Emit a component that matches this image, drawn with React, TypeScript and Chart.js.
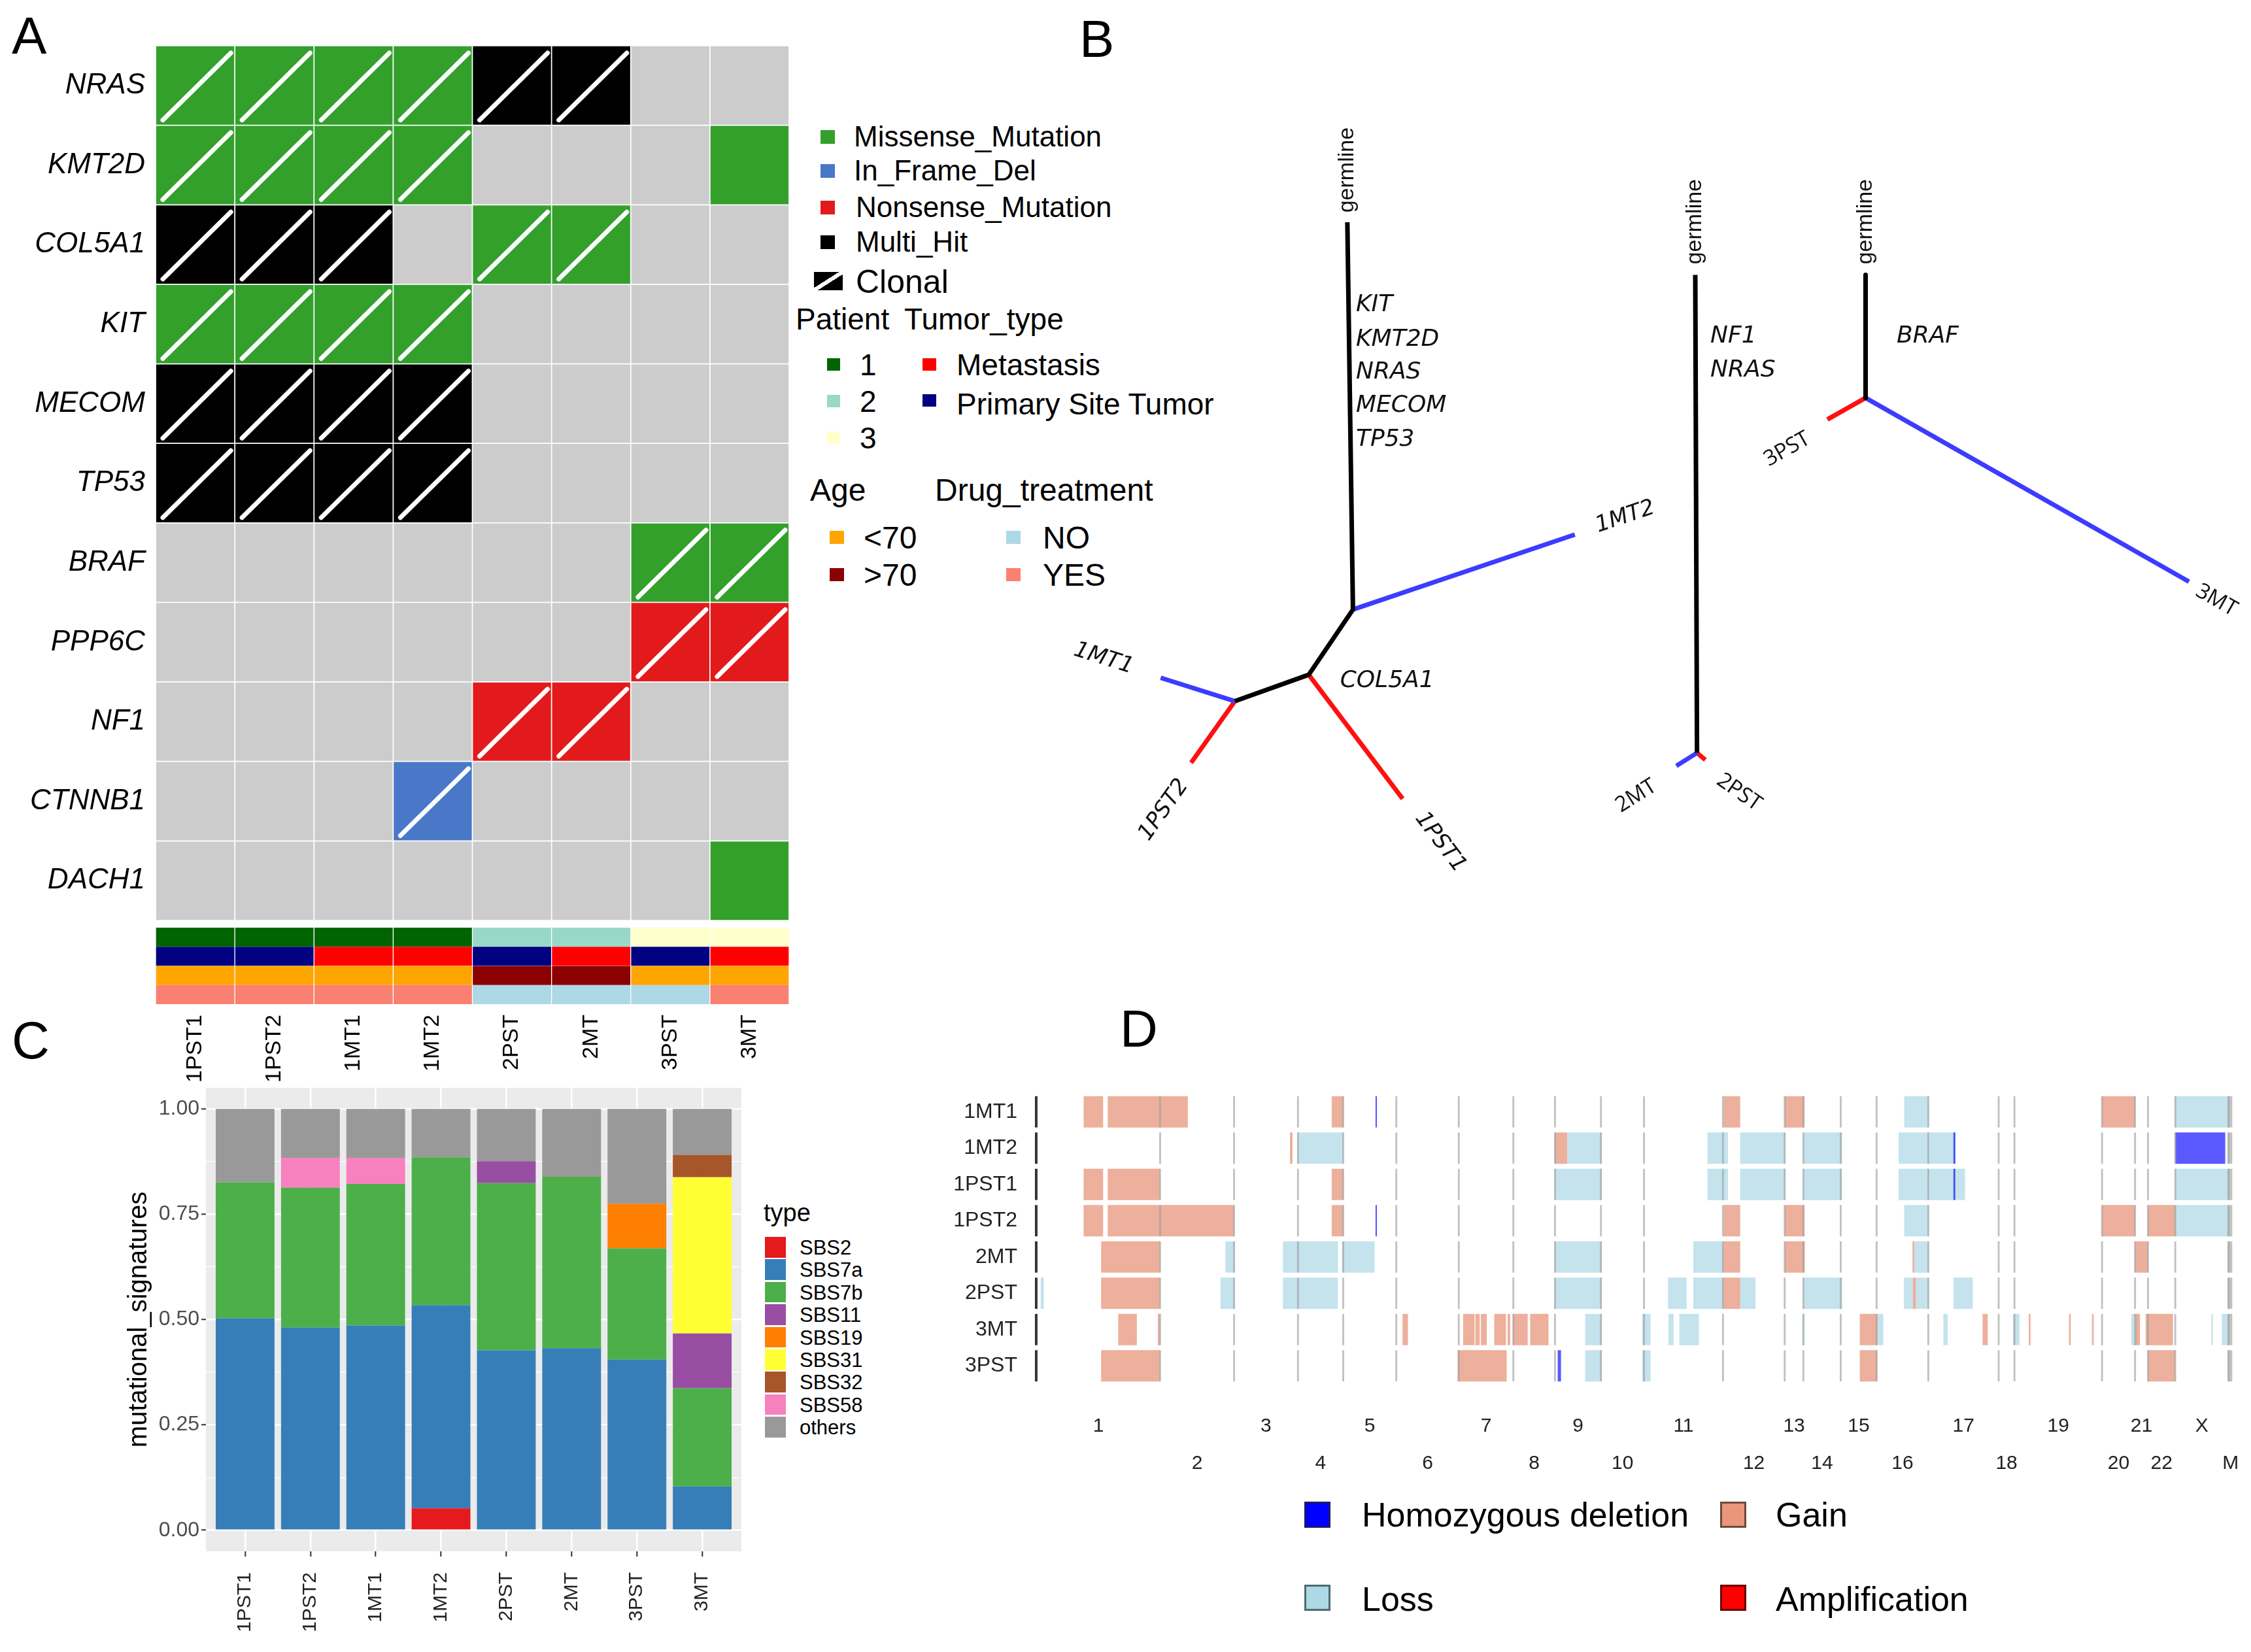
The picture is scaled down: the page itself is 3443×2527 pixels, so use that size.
import React, { useEffect, useRef } from 'react';
import { Chart, registerables } from 'chart.js';

Chart.register(...registerables);

const SANS = "'Liberation Sans', Arial, Helvetica, sans-serif";
const DEJAVU = "'DejaVu Sans', Verdana, sans-serif";
const OPEN = "'Open Sans', 'Liberation Sans', sans-serif";

// ================= Panel A : oncoprint =================
const oncoSamples = ['1PST1', '1PST2', '1MT1', '1MT2', '2PST', '2MT', '3PST', '3MT'];
const oncoGenes = ['NRAS', 'KMT2D', 'COL5A1', 'KIT', 'MECOM', 'TP53', 'BRAF', 'PPP6C', 'NF1', 'CTNNB1', 'DACH1'];
const variantTypes = ['Missense_Mutation', 'In_Frame_Del', 'Nonsense_Mutation', 'Multi_Hit'];
const variantColors = ['#33a02c', '#4a78c8', '#e31a1c', '#000000'];
const noVariantColor = '#cccccc';
const MIS = 'Missense_Mutation';
const DEL = 'In_Frame_Del';
const NON = 'Nonsense_Mutation';
const MH = 'Multi_Hit';
const NA = '';
const variantMatrix = [
  [MIS, MIS, MIS, MIS, MH, MH, NA, NA],
  [MIS, MIS, MIS, MIS, NA, NA, NA, MIS],
  [MH, MH, MH, NA, MIS, MIS, NA, NA],
  [MIS, MIS, MIS, MIS, NA, NA, NA, NA],
  [MH, MH, MH, MH, NA, NA, NA, NA],
  [MH, MH, MH, MH, NA, NA, NA, NA],
  [NA, NA, NA, NA, NA, NA, MIS, MIS],
  [NA, NA, NA, NA, NA, NA, NON, NON],
  [NA, NA, NA, NA, NON, NON, NA, NA],
  [NA, NA, NA, DEL, NA, NA, NA, NA],
  [NA, NA, NA, NA, NA, NA, NA, MIS],
];
const clonalMatrix = [
  [1, 1, 1, 1, 1, 1, 0, 0],
  [1, 1, 1, 1, 0, 0, 0, 0],
  [1, 1, 1, 0, 1, 1, 0, 0],
  [1, 1, 1, 1, 0, 0, 0, 0],
  [1, 1, 1, 1, 0, 0, 0, 0],
  [1, 1, 1, 1, 0, 0, 0, 0],
  [0, 0, 0, 0, 0, 0, 1, 1],
  [0, 0, 0, 0, 0, 0, 1, 1],
  [0, 0, 0, 0, 1, 1, 0, 0],
  [0, 0, 0, 1, 0, 0, 0, 0],
  [0, 0, 0, 0, 0, 0, 0, 0],
];
const patientOf = ['1', '1', '1', '1', '2', '2', '3', '3'];
const tumorTypeOf = ['Primary Site Tumor', 'Primary Site Tumor', 'Metastasis', 'Metastasis', 'Primary Site Tumor', 'Metastasis', 'Primary Site Tumor', 'Metastasis'];
const ageOf = ['<70', '<70', '<70', '<70', '>70', '>70', '<70', '<70'];
const drugOf = ['YES', 'YES', 'YES', 'YES', 'NO', 'NO', 'NO', 'YES'];
const patientLevels = ['1', '2', '3'];
const patientColors = ['#006400', '#99d8c9', '#ffffcc'];
const tumorLevels = ['Metastasis', 'Primary Site Tumor'];
const tumorColors = ['#ff0000', '#000080'];
const ageLevels = ['<70', '>70'];
const ageColors = ['#ffa500', '#8b0000'];
const drugLevels = ['NO', 'YES'];
const drugColors = ['#add8e6', '#fa8072'];

// ================= Panel B : phylogenetic trees =================
const treeNodes: Record<string, [number, number]> = {
  G1: [23.85, 47.53], N1: [24.24, 20.56], T1MT2: [39.69, 25.78], N2: [21.16, 16.02], N3: [16.02, 14.18],
  T1MT1: [10.85, 15.81], T1PST2: [12.97, 9.89], T1PST1: [27.7, 7.38],
  G2: [48.08, 43.87], N4: [48.2, 10.58], T2MT: [46.76, 9.67], T2PST: [48.78, 10.09],
  G3: [59.94, 43.87], N5: [59.94, 35.3], T3PST: [57.28, 33.8], T3MT: [82.46, 22.5],
};
const trunkBranches = [['G1', 'N1', 'N2', 'N3'], ['G2', 'N4'], ['G3', 'N5']];
const metastasisBranches = [['N1', 'T1MT2'], ['N3', 'T1MT1'], ['N4', 'T2MT'], ['N5', 'T3MT']];
const primaryBranches = [['N3', 'T1PST2'], ['N2', 'T1PST1'], ['N4', 'T2PST'], ['N5', 'T3PST']];
const treeLabels = [
  { text: 'germline', x: 23.85, y: 48.2, rot: -90, align: 'left', kind: 'root' },
  { text: 'germline', x: 48.08, y: 44.6, rot: -90, align: 'left', kind: 'root' },
  { text: 'germline', x: 59.94, y: 44.6, rot: -90, align: 'left', kind: 'root' },
  { text: 'KIT', x: 24.45, y: 41.78, rot: 0, align: 'left', kind: 'gene' },
  { text: 'KMT2D', x: 24.45, y: 39.37, rot: 0, align: 'left', kind: 'gene' },
  { text: 'NRAS', x: 24.45, y: 37.07, rot: 0, align: 'left', kind: 'gene' },
  { text: 'MECOM', x: 24.45, y: 34.74, rot: 0, align: 'left', kind: 'gene' },
  { text: 'TP53', x: 24.45, y: 32.37, rot: 0, align: 'left', kind: 'gene' },
  { text: 'COL5A1', x: 23.34, y: 15.57, rot: 0, align: 'left', kind: 'gene' },
  { text: 'NF1', x: 49.13, y: 39.57, rot: 0, align: 'left', kind: 'gene' },
  { text: 'NRAS', x: 49.13, y: 37.23, rot: 0, align: 'left', kind: 'gene' },
  { text: 'BRAF', x: 62.1, y: 39.57, rot: 0, align: 'left', kind: 'gene' },
  { text: '1MT2', x: 43.2, y: 27.0, rot: -18.7, align: 'center', kind: 'tipItalic' },
  { text: '1MT1', x: 6.87, y: 17.14, rot: 17.5, align: 'center', kind: 'tipItalic' },
  { text: '1PST2', x: 11.08, y: 6.6, rot: -54.6, align: 'center', kind: 'tipItalic' },
  { text: '1PST1', x: 30.32, y: 4.35, rot: 52.9, align: 'center', kind: 'tipItalic' },
  { text: '2MT', x: 43.96, y: 7.58, rot: -32, align: 'center', kind: 'tip' },
  { text: '2PST', x: 51.13, y: 7.83, rot: 35, align: 'center', kind: 'tip' },
  { text: '3PST', x: 54.48, y: 31.72, rot: -29.4, align: 'center', kind: 'tip' },
  { text: '3MT', x: 84.37, y: 21.2, rot: 29.6, align: 'center', kind: 'tip' },
];

// ================= Panel C : mutational signatures =================
const sigSamples = ['1PST1', '1PST2', '1MT1', '1MT2', '2PST', '2MT', '3PST', '3MT'];
const sigNames = ['SBS2', 'SBS7a', 'SBS7b', 'SBS11', 'SBS19', 'SBS31', 'SBS32', 'SBS58', 'others'];
const sigColors = ['#E41A1C', '#377EB8', '#4DAF4A', '#984EA3', '#FF7F00', '#FFFF33', '#A65628', '#F781BF', '#999999'];
const SBS2 = [0, 0, 0, 0.052, 0, 0, 0, 0];
const SBS7a = [0.503, 0.481, 0.486, 0.482, 0.427, 0.432, 0.405, 0.104];
const SBS7b = [0.323, 0.332, 0.336, 0.351, 0.397, 0.407, 0.264, 0.233];
const SBS11 = [0, 0, 0, 0, 0.052, 0, 0, 0.13];
const SBS19 = [0, 0, 0, 0, 0, 0, 0.106, 0];
const SBS31 = [0, 0, 0, 0, 0, 0, 0, 0.371];
const SBS32 = [0, 0, 0, 0, 0, 0, 0, 0.053];
const SBS58 = [0, 0.071, 0.062, 0, 0, 0, 0, 0];
const others = [0.174, 0.116, 0.116, 0.115, 0.124, 0.161, 0.225, 0.109];
const sigValues = [SBS2, SBS7a, SBS7b, SBS11, SBS19, SBS31, SBS32, SBS58, others];
const sigYTicks = [0, 0.125, 0.25, 0.375, 0.5, 0.625, 0.75, 0.875, 1];

// ================= Panel D : copy number =================
const cnvSamples = ['1MT1', '1MT2', '1PST1', '1PST2', '2MT', '2PST', '3MT', '3PST'];
const chrNames = ['1', '2', '3', '4', '5', '6', '7', '8', '9', '10', '11', '12', '13', '14', '15', '16', '17', '18', '19', '20', '21', '22', 'X', 'M'];
const chrWidths = [86, 51.5, 44.5, 31.5, 37, 43.5, 38, 29, 32, 30, 55, 43, 13, 26, 25, 36, 49, 11, 61, 23, 9, 19, 37, 3];
const gainSegments = [
  [0, 32.7, 46.3], [0, 49.5, 105.3], [0, 205.5, 213.6], [0, 478.5, 490], [0, 521, 534.8], [0, 742, 765],
  [1, 176.4, 178.2], [1, 360.8, 369.5],
  [2, 32.7, 46.3], [2, 49.5, 85.8], [2, 205.5, 213.6],
  [3, 32.7, 46.3], [3, 49.5, 137.5], [3, 205.5, 213.6], [3, 478.5, 490], [3, 521, 534.8], [3, 742, 765], [3, 774, 793],
  [4, 44.9, 85.8], [4, 478.5, 490], [4, 521, 535], [4, 610, 611.2], [4, 765, 774],
  [5, 44.9, 85.8], [5, 478.5, 490], [5, 610.3, 612.4],
  [6, 56.8, 69.8], [6, 84.4, 85.8], [6, 254.8, 258.6], [6, 297, 305], [6, 305.6, 308.6], [6, 309.4, 313.5],
  [6, 318.7, 326.9], [6, 328, 329.8], [6, 331.8, 342], [6, 343.7, 356.5], [6, 573.3, 585.4], [6, 658.8, 662.4],
  [6, 691, 692.2], [6, 719, 720.2], [6, 735, 736.2], [6, 765.4, 768.4], [6, 772.4, 791.4],
  [7, 44.9, 85.8], [7, 293.2, 327.4], [7, 573.3, 585.4], [7, 774, 793],
];
const lossSegments = [
  [0, 604.2, 621.2], [0, 793, 830],
  [1, 181.7, 213.6], [1, 369.5, 393.6], [1, 467.2, 481.5], [1, 490, 521.5], [1, 533.9, 560.9], [1, 600.3, 640],
  [2, 360.8, 393.6], [2, 467.2, 481.5], [2, 490, 521.5], [2, 533.9, 560.9], [2, 600.3, 646.6], [2, 793, 830],
  [3, 604.2, 621.2], [3, 793, 830],
  [4, 131.4, 138], [4, 171.5, 209.8], [4, 212.7, 235.4], [4, 360.8, 393.6], [4, 457.3, 478.5], [4, 611.2, 621.2],
  [5, 2.8, 5], [5, 128, 138], [5, 171.5, 209.8], [5, 360.8, 393.6], [5, 439.7, 452.7], [5, 457.3, 478.5],
  [5, 490, 500.6], [5, 534, 561], [5, 604, 610.3], [5, 612.4, 621.2], [5, 638.5, 652],
  [6, 382, 393.6], [6, 421.8, 427.6], [6, 440, 443.6], [6, 447.6, 461.2], [6, 533.3, 534.7], [6, 585.4, 589.7],
  [6, 631.5, 634.5], [6, 680, 684.5], [6, 762.4, 766.3], [6, 818.2, 819.2], [6, 825.4, 830],
  [7, 382, 393.6], [7, 421.8, 427.6],
];
const homdelSegments = [
  [0, 236, 237], [1, 793, 827.8], [1, 638.5, 639.8], [2, 638.5, 639.8], [3, 236, 237], [7, 362.9, 365.2],
];
const amplificationSegments: number[][] = [];
const cnvLegendNames = ['Homozygous deletion', 'Loss', 'Gain', 'Amplification'];
const cnvLegendColors = ['#0000ff', '#add8e6', '#e9967a', '#ff0000'];
const cnvLegendBorders = ['#1a1a6e', '#4d6b73', '#6e4a3c', '#6e0000'];

// ================= helpers =================
const cumulative = (w: number[]) => {
  const ends: number[] = [];
  let acc = 0;
  w.forEach((v) => { acc += v; ends.push(acc); });
  return ends;
};
const chrEnds = cumulative(chrWidths);
const chrStarts = chrEnds.map((e, i) => e - chrWidths[i]);
const chrCenters = chrStarts.map((s, i) => s + chrWidths[i] / 2);
const segData = (segs: number[][]) => segs.map((s) => ({ x: [s[1], s[2]], y: cnvSamples[s[0]] }));

const clonalPlugin = {
  id: 'clonalMarks',
  afterDatasetsDraw(chart: any) {
    const ctx = chart.ctx;
    chart.data.datasets.forEach((_ds: any, j: number) => {
      const meta = chart.getDatasetMeta(j);
      meta.data.forEach((el: any, i: number) => {
        if (!clonalMatrix[i][j]) return;
        const p = el.getProps(['x', 'y', 'base', 'height'], true);
        const left = Math.min(p.x, p.base);
        const right = Math.max(p.x, p.base);
        const top = p.y - p.height / 2;
        const bottom = p.y + p.height / 2;
        ctx.save();
        ctx.strokeStyle = '#ffffff';
        ctx.lineWidth = 7;
        ctx.lineCap = 'round';
        ctx.beginPath();
        ctx.moveTo(left + 11, bottom - 8);
        ctx.lineTo(right - 6, top + 11);
        ctx.stroke();
        ctx.restore();
      });
    });
  },
};

const panelBgPlugin = {
  id: 'panelBg',
  beforeDraw(chart: any) {
    const { ctx, chartArea } = chart;
    ctx.save();
    ctx.fillStyle = '#ebebeb';
    ctx.fillRect(chartArea.left, chartArea.top, chartArea.right - chartArea.left, chartArea.bottom - chartArea.top);
    ctx.restore();
  },
};

const treeLabelPlugin = {
  id: 'treeLabels',
  afterDatasetsDraw(chart: any) {
    const { ctx, scales } = chart;
    treeLabels.forEach((l) => {
      ctx.save();
      ctx.translate(scales.x.getPixelForValue(l.x), scales.y.getPixelForValue(l.y));
      ctx.rotate((l.rot * Math.PI) / 180);
      if (l.kind === 'root') ctx.font = `34px ${SANS}`;
      else if (l.kind === 'gene') ctx.font = `italic 36px ${DEJAVU}`;
      else if (l.kind === 'tipItalic') ctx.font = `italic 34px ${DEJAVU}`;
      else ctx.font = `33px ${OPEN}`;
      ctx.fillStyle = '#111';
      ctx.textAlign = l.align;
      ctx.textBaseline = 'middle';
      ctx.fillText(l.text, 0, 0);
      ctx.restore();
    });
  },
};

const isMajor = (v: number) => Math.abs(v * 4 - Math.round(v * 4)) < 1e-6;

// ================= chart configs =================
function heatmapConfig(): any {
  return {
    type: 'bar',
    data: {
      labels: oncoGenes,
      datasets: oncoSamples.map((s, j) => ({
        label: s,
        data: oncoGenes.map(() => 1),
        backgroundColor: oncoGenes.map((_, i) => {
          const t = variantMatrix[i][j];
          return t ? variantColors[variantTypes.indexOf(t)] : noVariantColor;
        }),
        borderColor: 'rgba(255,255,255,0.28)',
        borderWidth: 1.2,
        borderSkipped: false,
        barPercentage: 1,
        categoryPercentage: 1,
      })),
    },
    options: {
      indexAxis: 'y',
      responsive: false,
      animation: false,
      events: [],
      layout: { padding: 0 },
      plugins: { legend: { display: false }, tooltip: { enabled: false } },
      scales: {
        x: { stacked: true, min: 0, max: oncoSamples.length, display: false },
        y: {
          stacked: true,
          grid: { display: false },
          border: { display: false },
          ticks: { font: { family: SANS, size: 44, style: 'italic' }, color: '#000', padding: 8 },
          afterFit: (s: any) => { s.width = 238; s.paddingTop = 0; s.paddingBottom = 0; },
        },
      },
    },
    plugins: [clonalPlugin],
  };
}

function annotationConfig(): any {
  const rows = [
    { name: 'Drug_treatment', values: drugOf, levels: drugLevels, colors: drugColors },
    { name: 'Age', values: ageOf, levels: ageLevels, colors: ageColors },
    { name: 'Tumor_type', values: tumorTypeOf, levels: tumorLevels, colors: tumorColors },
    { name: 'Patient', values: patientOf, levels: patientLevels, colors: patientColors },
  ];
  return {
    type: 'bar',
    data: {
      labels: oncoSamples,
      datasets: rows.map((r) => ({
        label: r.name,
        data: oncoSamples.map(() => 1),
        backgroundColor: r.values.map((v) => r.colors[r.levels.indexOf(v)]),
        borderColor: 'rgba(255,255,255,0.15)',
        borderWidth: { left: 1, right: 1, top: 0, bottom: 0 },
        borderSkipped: false,
        barPercentage: 1,
        categoryPercentage: 1,
      })),
    },
    options: {
      responsive: false,
      animation: false,
      events: [],
      layout: { padding: 0 },
      plugins: { legend: { display: false }, tooltip: { enabled: false } },
      scales: {
        x: {
          stacked: true,
          grid: { display: false },
          border: { display: false },
          ticks: { autoSkip: false, minRotation: 90, maxRotation: 90, font: { family: SANS, size: 34 }, color: '#000', padding: 8 },
          afterFit: (s: any) => { s.height = 150; s.paddingLeft = 0; s.paddingRight = 0; },
        },
        y: { stacked: true, min: 0, max: 4, display: false },
      },
    },
  };
}

function treeConfig(): any {
  const mk = (path: string[], color: string) => ({
    data: path.map((k) => ({ x: treeNodes[k][0], y: treeNodes[k][1] })),
    showLine: true,
    borderColor: color,
    borderWidth: 7,
    borderCapStyle: 'butt',
    borderJoinStyle: 'round',
    pointRadius: 0,
    pointHoverRadius: 0,
    tension: 0,
  });
  return {
    type: 'scatter',
    data: {
      datasets: [
        ...trunkBranches.map((p) => mk(p, '#000000')),
        ...metastasisBranches.map((p) => mk(p, '#3c3cff')),
        ...primaryBranches.map((p) => mk(p, '#ff1010')),
      ],
    },
    options: {
      responsive: false,
      animation: false,
      events: [],
      layout: { padding: 0 },
      plugins: { legend: { display: false }, tooltip: { enabled: false } },
      scales: {
        x: { type: 'linear', min: 0, max: 86.78, display: false },
        y: { type: 'linear', min: 0, max: 57, display: false },
      },
    },
    plugins: [treeLabelPlugin],
  };
}

function signatureConfig(): any {
  return {
    type: 'bar',
    data: {
      datasets: sigNames.map((n, k) => ({
        label: n,
        data: sigValues[k].map((v, i) => ({ x: i, y: v })),
        backgroundColor: sigColors[k],
        borderWidth: 0,
        barPercentage: 0.9,
        categoryPercentage: 1,
      })),
    },
    options: {
      responsive: false,
      animation: false,
      events: [],
      layout: { padding: { right: 10 } },
      plugins: { legend: { display: false }, tooltip: { enabled: false } },
      scales: {
        x: {
          type: 'linear',
          offset: false,
          stacked: true,
          min: -0.6,
          max: sigSamples.length - 0.4,
          afterBuildTicks: (s: any) => { s.ticks = sigSamples.map((_, i) => ({ value: i })); },
          ticks: {
            autoSkip: false,
            minRotation: 90,
            maxRotation: 90,
            callback: (v: any) => sigSamples[v],
            font: { family: SANS, size: 30 },
            color: '#222',
            padding: 24,
          },
          grid: { offset: false, color: '#ffffff', lineWidth: 2.6, tickColor: '#333333', tickLength: 8, tickWidth: 2 },
          border: { display: false },
          afterFit: (s: any) => { s.height = 200; s.paddingLeft = 0; s.paddingRight = 0; },
        },
        y: {
          stacked: true,
          min: -0.05,
          max: 1.05,
          afterBuildTicks: (s: any) => { s.ticks = sigYTicks.map((v) => ({ value: v })); },
          ticks: {
            callback: (v: any) => (isMajor(v) ? Number(v).toFixed(2) : ''),
            font: { family: SANS, size: 32 },
            color: '#4d4d4d',
            padding: 3,
          },
          grid: {
            color: '#ffffff',
            lineWidth: (c: any) => (c.tick && isMajor(c.tick.value) ? 2.6 : 1.3),
            tickColor: (c: any) => (c.tick && isMajor(c.tick.value) ? '#333333' : 'rgba(0,0,0,0)'),
            tickLength: 7,
            tickWidth: 2,
          },
          border: { display: false },
          title: { display: true, text: 'mutational_signatures', font: { family: SANS, size: 40 }, color: '#000', padding: { top: 4, bottom: 4 } },
          afterFit: (s: any) => { s.width = 130; s.paddingTop = 0; s.paddingBottom = 0; },
        },
      },
    },
    plugins: [panelBgPlugin],
  };
}

function cnvConfig(): any {
  const boundaryData: any[] = [];
  const axisData: any[] = [];
  cnvSamples.forEach((s) => {
    axisData.push({ x: [-1.2, 0.6], y: s });
    chrEnds.slice(0, -1).forEach((b) => boundaryData.push({ x: [b - 0.65, b + 0.65], y: s }));
    boundaryData.push({ x: [chrStarts[chrStarts.length - 1] - 0.3, chrEnds[chrEnds.length - 1] - 0.3], y: s });
  });
  const common = { grouped: false, barPercentage: 0.862, categoryPercentage: 1, borderWidth: 0 };
  return {
    type: 'bar',
    data: {
      labels: cnvSamples,
      datasets: [
        { label: 'boundary', data: boundaryData, backgroundColor: 'rgba(160,160,160,0.65)', ...common },
        { label: 'axis', data: axisData, backgroundColor: '#333333', ...common },
        { label: 'Homozygous deletion', data: segData(homdelSegments), backgroundColor: 'rgba(0,0,255,0.65)', ...common },
        { label: 'Amplification', data: segData(amplificationSegments), backgroundColor: 'rgba(255,0,0,0.65)', ...common },
        { label: 'Gain', data: segData(gainSegments), backgroundColor: 'rgba(230,146,118,0.72)', ...common },
        { label: 'Loss', data: segData(lossSegments), backgroundColor: 'rgba(173,216,230,0.72)', ...common },
      ],
    },
    options: {
      indexAxis: 'y',
      responsive: false,
      animation: false,
      events: [],
      layout: { padding: { right: 30 } },
      plugins: { legend: { display: false }, tooltip: { enabled: false } },
      scales: {
        x: {
          type: 'linear',
          min: -3,
          max: chrEnds[chrEnds.length - 1],
          afterBuildTicks: (s: any) => { s.ticks = chrCenters.map((v) => ({ value: v })); },
          ticks: {
            autoSkip: false,
            minRotation: 0,
            maxRotation: 0,
            callback: (_v: any, i: number) => (i % 2 === 0 ? [chrNames[i], ''] : ['', chrNames[i]]),
            font: { family: SANS, size: 30, lineHeight: 1.9 },
            color: '#222',
            padding: 28,
          },
          grid: { display: false },
          border: { display: false },
          afterFit: (s: any) => { s.height = 150; s.paddingLeft = 0; s.paddingRight = 0; },
        },
        y: {
          type: 'category',
          grid: { display: false },
          border: { display: false },
          ticks: { font: { family: SANS, size: 32 }, color: '#222', padding: 15 },
          afterFit: (s: any) => { s.width = 129; s.paddingTop = 0; s.paddingBottom = 0; },
        },
      },
    },
  };
}

// ================= components =================
function ChartCanvas({ left, top, width, height, make }: any) {
  const ref = useRef<HTMLCanvasElement>(null);
  useEffect(() => {
    const chart = new Chart(ref.current as HTMLCanvasElement, make());
    return () => chart.destroy();
  }, []);
  return (
    <canvas
      ref={ref}
      width={width}
      height={height}
      style={{ position: 'absolute', left, top, width, height }}
    />
  );
}

const Txt = ({ x, y, size, children, family }: any) => (
  <div
    style={{
      position: 'absolute',
      left: x,
      top: y,
      fontSize: size,
      lineHeight: 1,
      transform: 'translateY(-50%)',
      whiteSpace: 'nowrap',
      fontFamily: family || SANS,
      color: '#000',
    }}
  >
    {children}
  </div>
);

const Box = ({ x, y, w, h, color, border }: any) => (
  <div
    style={{
      position: 'absolute',
      left: x,
      top: y,
      width: w,
      height: h,
      background: color,
      boxSizing: 'border-box',
      border: border || 'none',
    }}
  />
);

function LegendA() {
  const vy = [209, 261, 317, 370];
  const vx = [1306, 1306, 1309, 1309];
  return (
    <>
      {variantTypes.map((t, i) => (
        <React.Fragment key={t}>
          <Box x={1255} y={vy[i] - 10} w={22} h={21} color={variantColors[i]} />
          <Txt x={vx[i]} y={vy[i]} size={44}>{t}</Txt>
        </React.Fragment>
      ))}
      <div
        style={{
          position: 'absolute', left: 1245, top: 416, width: 44, height: 28,
          background: 'linear-gradient(to top left, #000 calc(50% - 3px), #fff calc(50% - 3px), #fff calc(50% + 3px), #000 calc(50% + 3px))',
        }}
      />
      <Txt x={1309} y={431} size={50}>Clonal</Txt>
      <Txt x={1217} y={488} size={46}>Patient</Txt>
      <Txt x={1383} y={488} size={46}>Tumor_type</Txt>
      {patientLevels.map((p, i) => (
        <React.Fragment key={p}>
          <Box x={1265} y={548 + i * 56} w={20} h={19} color={patientColors[i]} />
          <Txt x={1315} y={558 + i * 56} size={46}>{p}</Txt>
        </React.Fragment>
      ))}
      {tumorLevels.map((t, i) => (
        <React.Fragment key={t}>
          <Box x={1411} y={548 + i * 55} w={21} h={19} color={tumorColors[i]} />
          <Txt x={1463} y={558 + i * 60} size={46}>{t}</Txt>
        </React.Fragment>
      ))}
      <Txt x={1239} y={750} size={48}>Age</Txt>
      <Txt x={1430} y={750} size={48}>Drug_treatment</Txt>
      {ageLevels.map((a, i) => (
        <React.Fragment key={a}>
          <Box x={1269} y={812 + i * 57} w={22} h={20} color={ageColors[i]} />
          <Txt x={1321} y={823 + i * 57} size={48}>{a}</Txt>
        </React.Fragment>
      ))}
      {drugLevels.map((d, i) => (
        <React.Fragment key={d}>
          <Box x={1539} y={812 + i * 57} w={22} h={20} color={drugColors[i]} />
          <Txt x={1595} y={823 + i * 57} size={48}>{d}</Txt>
        </React.Fragment>
      ))}
    </>
  );
}

function LegendC() {
  return (
    <>
      <Txt x={1168} y={1855} size={38}>type</Txt>
      {sigNames.map((n, i) => (
        <React.Fragment key={n}>
          <Box x={1170} y={1892 + i * 34.4} w={32} h={31.5} color={sigColors[i]} />
          <Txt x={1223} y={1892 + i * 34.4 + 16} size={31}>{n}</Txt>
        </React.Fragment>
      ))}
    </>
  );
}

function LegendD() {
  const pos = [
    [1995, 2297, 2083, 2317],
    [1995, 2424, 2083, 2446],
    [2631, 2297, 2716, 2317],
    [2631, 2424, 2716, 2446],
  ];
  return (
    <>
      {cnvLegendNames.map((n, i) => (
        <React.Fragment key={n}>
          <Box x={pos[i][0]} y={pos[i][1]} w={40} h={40} color={cnvLegendColors[i]} border={`3px solid ${cnvLegendBorders[i]}`} />
          <Txt x={pos[i][2]} y={pos[i][3]} size={52}>{n}</Txt>
        </React.Fragment>
      ))}
    </>
  );
}

export default function App() {
  useEffect(() => {
    document.body.style.margin = '0';
    document.body.style.background = '#ffffff';
  }, []);
  return (
    <div style={{ position: 'relative', width: 3443, height: 2527, background: '#fff', overflow: 'hidden', fontFamily: SANS }}>
      <Txt x={18} y={55} size={80}>A</Txt>
      <Txt x={1651} y={60} size={80}>B</Txt>
      <Txt x={18} y={1592} size={80}>C</Txt>
      <Txt x={1713} y={1574} size={80}>D</Txt>

      <ChartCanvas left={0} top={70} width={1207} height={1338} make={heatmapConfig} />
      <ChartCanvas left={238} top={1419} width={969} height={267} make={annotationConfig} />
      <LegendA />

      <ChartCanvas left={1537} top={132} width={1906} height={1252} make={treeConfig} />

      <ChartCanvas left={185} top={1664} width={959} height={909} make={signatureConfig} />
      <LegendC />

      <ChartCanvas left={1450} top={1673} width={1995} height={594} make={cnvConfig} />
      <LegendD />
    </div>
  );
}
